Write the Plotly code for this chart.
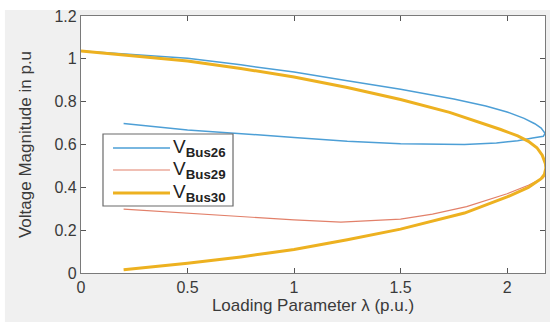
import plotly.graph_objects as go

# Bus 26 (upper branch to nose, then lower branch back)
lam26 = [0, 0.25, 0.5, 0.75, 1.0, 1.25, 1.5, 1.75, 1.9, 2.0, 2.08, 2.13, 2.16, 2.178,
         2.17, 2.12, 2.05, 1.95, 1.8, 1.5, 1.25, 1.0, 0.75, 0.5, 0.2]
v26 = [1.037, 1.02, 1.003, 0.972, 0.938, 0.898, 0.858, 0.812, 0.78, 0.752, 0.722, 0.697, 0.677, 0.652,
       0.638, 0.63, 0.618, 0.607, 0.600, 0.603, 0.615, 0.633, 0.652, 0.668, 0.698]

# Bus 29 (lower branch visible)
lam29 = [0.2, 0.5, 0.75, 1.0, 1.22, 1.5, 1.65, 1.81, 2.0, 2.1, 2.17, 2.18]
v29 = [0.298, 0.28, 0.262, 0.248, 0.238, 0.252, 0.275, 0.31, 0.37, 0.41, 0.445, 0.46]

# Bus 30
lam30 = [0, 0.25, 0.5, 0.75, 1.0, 1.25, 1.5, 1.73, 1.9, 1.97, 2.05, 2.1, 2.14, 2.165, 2.18, 2.182,
         2.175, 2.16, 2.1, 2.0, 1.8, 1.5, 1.25, 1.0, 0.75, 0.5, 0.2]
v30 = [1.037, 1.015, 0.99, 0.955, 0.915, 0.866, 0.81, 0.75, 0.695, 0.67, 0.64, 0.615, 0.585, 0.55, 0.51, 0.49,
       0.46, 0.44, 0.40, 0.355, 0.28, 0.205, 0.155, 0.11, 0.075, 0.045, 0.015]

series_names = ["Bus26", "Bus29", "Bus30"]
series_colors = ["#4d9fd6", "#e2806a", "#edb120"]
series_widths = [1.5, 1.2, 3]

x_ticks = [0, 0.5, 1, 1.5, 2]
x_tick_labels = ["0", "0.5", "1", "1.5", "2"]
y_ticks = [0, 0.2, 0.4, 0.6, 0.8, 1, 1.2]
y_tick_labels = ["0", "0.2", "0.4", "0.6", "0.8", "1", "1.2"]

fig = go.Figure()
for xs, ys, nm, col, w in zip([lam26, lam29, lam30], [v26, v29, v30],
                              series_names, series_colors, series_widths):
    fig.add_trace(go.Scatter(x=xs, y=ys, mode="lines", name="V" + nm, showlegend=False,
                             line=dict(color=col, width=w)))

font_fam = "Liberation Sans, Arial, sans-serif"
axis_common = dict(showgrid=False, zeroline=False, showline=True, mirror="ticks",
                   linecolor="#7a7a7a", linewidth=1.2, ticks="inside", ticklen=5,
                   tickcolor="#555555", tickfont=dict(family=font_fam, size=16, color="#3a3a3a"))

fig.update_layout(
    width=550, height=322,
    margin=dict(l=81, r=5, t=16, b=49),
    paper_bgcolor="#f0f0f0", plot_bgcolor="white",
    showlegend=False,
    xaxis=dict(range=[0, 2.178], tickvals=x_ticks, ticktext=x_tick_labels,
               title=dict(text="Loading Parameter λ (p.u.)", standoff=2,
                          font=dict(family=font_fam, size=17, color="#3a3a3a")),
               **axis_common),
    yaxis=dict(range=[0, 1.2], tickvals=y_ticks, ticktext=y_tick_labels,
               title=dict(text="Voltage Magnitude in p.u", standoff=18,
                          font=dict(family=font_fam, size=17, color="#3a3a3a")),
               **axis_common),
)

# white outer border of the picture
fig.add_shape(type="rect", xref="paper", yref="paper", x0=-0.2, x1=-0.164, y0=-0.3, y1=1.1,
              fillcolor="white", line=dict(width=0), layer="below")
fig.add_shape(type="rect", xref="paper", yref="paper", x0=-0.2, x1=1.1, y0=1.0233, y1=1.1,
              fillcolor="white", line=dict(width=0), layer="below")

# legend box (MATLAB style)
fig.add_shape(type="rect", xref="paper", yref="paper", x0=0.0474, x1=0.3276, y0=0.2607, y1=0.5409,
              fillcolor="white", line=dict(color="#6a6a6a", width=1.2))
row_y = [0.4864, 0.4008, 0.3113]
for ry, nm, col, w in zip(row_y, series_names, series_colors, series_widths):
    fig.add_shape(type="line", xref="paper", yref="paper", x0=0.069, x1=0.1918, y0=ry, y1=ry,
                  line=dict(color=col, width=w))
    fig.add_annotation(xref="paper", yref="paper", x=0.194, y=ry, xanchor="left", yanchor="middle",
                       showarrow=False, text="V<sub><b>" + nm + "</b></sub>",
                       font=dict(family=font_fam, size=19, color="#222222"))

fig.write_html("out.html")
